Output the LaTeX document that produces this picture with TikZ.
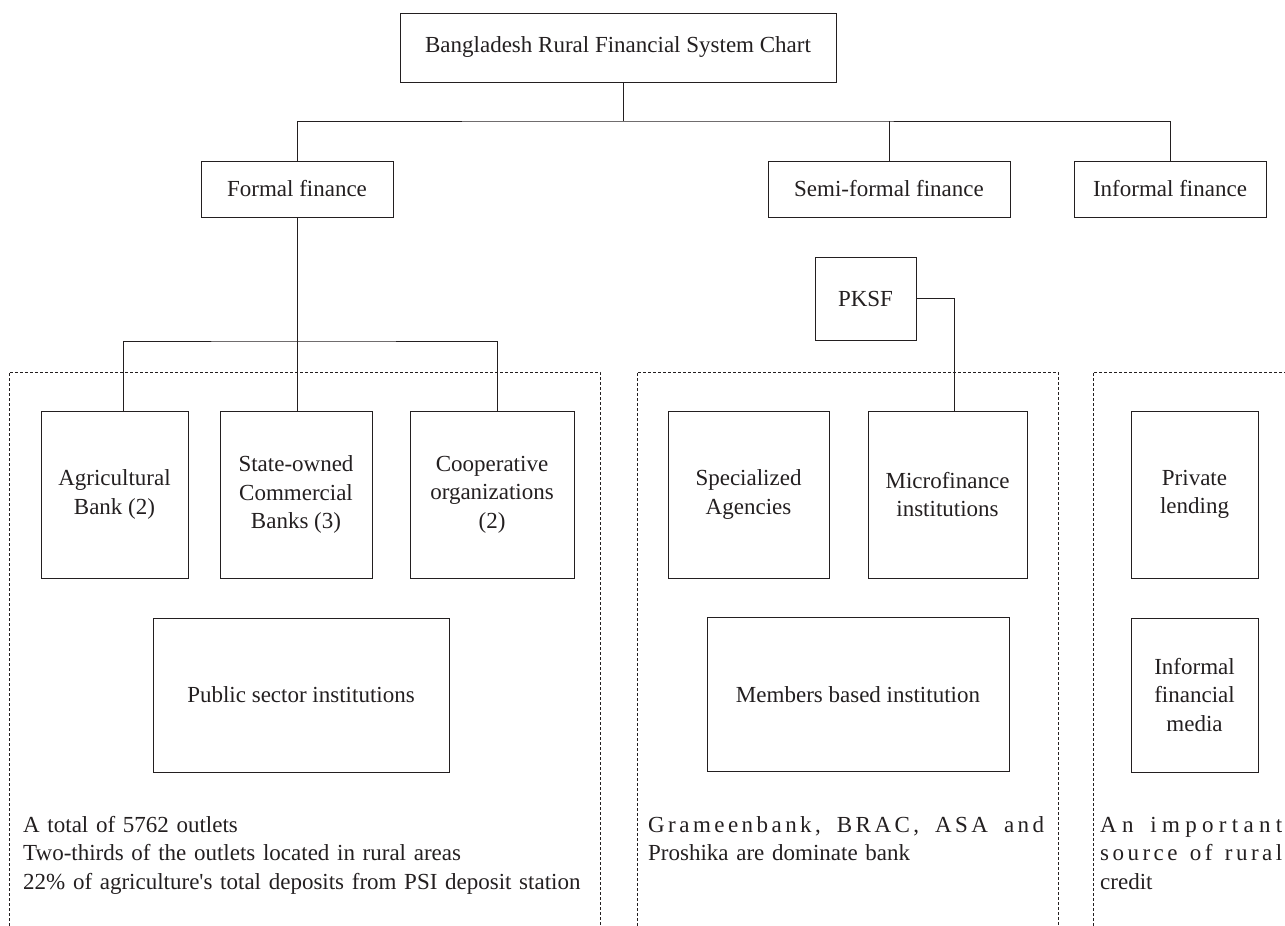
\documentclass[tikz,border=0pt]{standalone}
\usepackage{fontspec}
\setmainfont{Liberation Serif}
\usepackage{tikz}
\definecolor{chartgrey}{HTML}{231F20}
\newcommand{\spreadline}[3] % {width}{letter space}{text}
{%
	\makebox[#1][s]{\addfontfeatures{LetterSpace=#2}#3}%
}
\tikzset{
	box/.style={draw=chartgrey, line width=0.9pt, text=chartgrey, align=center, inner sep=2pt},
	zone/.style={draw=chartgrey, line width=0.6pt, dash pattern=on 3pt off 2pt},
	note/.style={anchor=base west, align=left, inner sep=0pt, text=chartgrey},
	link/.style={draw=chartgrey, line width=0.9pt}
}
\begin{document}
\begin{tikzpicture}[x=1pt, y=-1pt, font=\fontsize{23}{28.5}\selectfont]
						\useasboundingbox (0,0) rectangle (1285,926);
						
						% dashed zones, open at the bottom
						\draw[zone] (9,926) |- (600,372) -- (600,926);
						\draw[zone] (637,926) |- (1058,372) -- (1058,926);
						\draw[zone] (1093,926) |- (1285,372);
						
						\node[box, minimum width=436, minimum height=69] (title) at (618,47.5) {Bangladesh Rural Financial System Chart};
						\node[box, minimum width=192, minimum height=56] (formal) at (297,189) {Formal finance};
						\node[box, minimum width=242, minimum height=56] (semi) at (889,189) {Semi-formal finance};
						\node[box, minimum width=192, minimum height=56] (informal) at (1170,189) {Informal finance};
						\node[box, minimum width=101, minimum height=83] (pksf) at (865.5,298.5) {PKSF};
						
						\node[box, minimum width=147, minimum height=167] (agri) at (114.5,494.5) {Agricultural\\Bank (2)};
						\node[box, minimum width=152, minimum height=167] (state) at (296,494.5) {State-owned\\Commercial\\Banks (3)};
						\node[box, minimum width=164, minimum height=167] (coop) at (492,494.5) {Cooperative\\organizations\\(2)};
						\node[box, minimum width=296, minimum height=154] (public) at (301,695) {Public sector institutions};
						
						\node[box, minimum width=161, minimum height=167] (special) at (748.5,494.5) {Specialized\\Agencies};
						\node[box, minimum width=159, minimum height=167] (micro) at (947.5,494.5) {Microfinance\\institutions};
						\node[box, minimum width=302, minimum height=154] (members) at (858,694.5) {Members based institution};
						
						\node[box, minimum width=127, minimum height=167] (privlend) at (1194.5,494.5) {Private\\lending};
						\node[box, minimum width=127, minimum height=154] (media) at (1194.5,695) {Informal\\financial\\media};
						
						\coordinate (bus) at (623,121);
						\coordinate (fbus) at (297,341);
						\draw[link] ([xshift=5]title.south) -- (bus);
						\draw[link] (formal.north) |- (bus) -| (informal.north);
						\draw[link] (semi.north) -- (semi.north |- bus);
						\draw[link] (formal.south) -- (formal.south |- state.north);
						\draw[link] ([xshift=9]agri.north) |- (fbus) -| ([xshift=5]coop.north);
						\draw[link] (pksf.east) -| ([xshift=7]micro.north);
						
						\node[note, text width=580] (formalnote) at (23,832) {A total of 5762 outlets\\Two-thirds of the outlets located in rural areas\\22\% of agriculture\textquotesingle s total deposits from PSI deposit station};
						\node[note, text width=400] (seminote) at (648,832) {\spreadline{396pt}{15}{Grameenbank,\hfill BRAC,\hfill ASA\hfill and}\\Proshika are dominate bank};
						\node[note, text width=186] (informalnote) at (1100,832) {\spreadline{182pt}{23}{An\hfill important}\\\spreadline{182pt}{15}{source\hfill of\hfill rural}\\credit};
					\end{tikzpicture}
\end{document}
